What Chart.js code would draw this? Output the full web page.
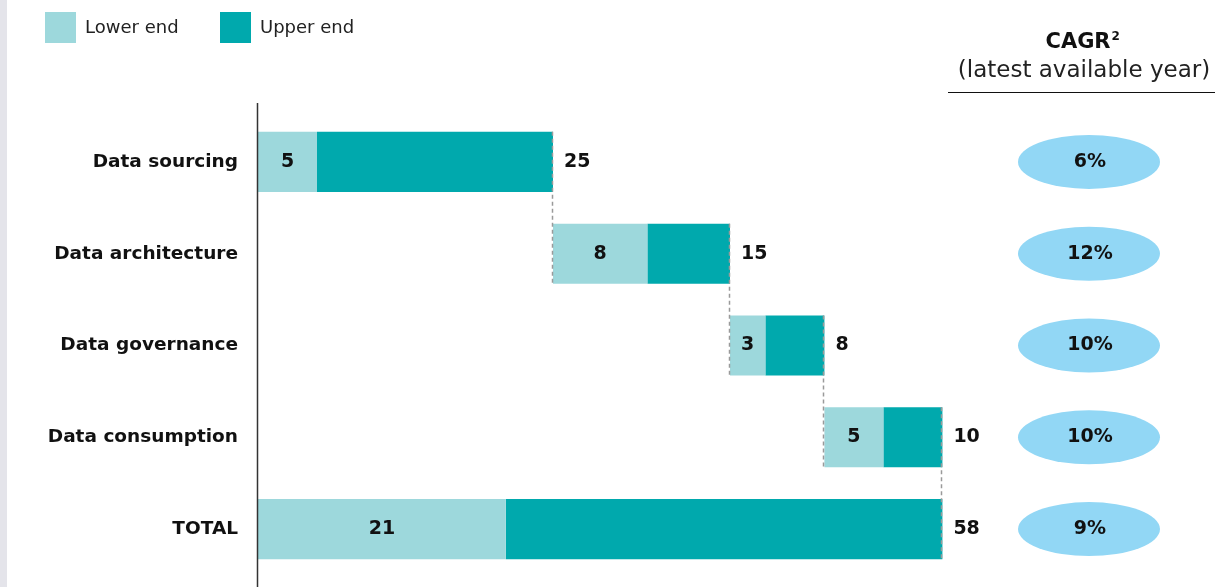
<!DOCTYPE html>
<html>
<head>
<meta charset="utf-8">
<script src="https://cdn.jsdelivr.net/npm/chart.js@4/dist/chart.umd.min.js"></script>
<style>
  html, body { margin: 0; padding: 0; background: #fff; }
  #wrap { width: 1215px; height: 587px; position: relative; }
</style>
</head>
<body>
<div id="wrap"><canvas id="myChart" width="1215" height="587"></canvas></div>
<script>
// data
const categories = ['Data sourcing', 'Data architecture', 'Data governance', 'Data consumption', 'TOTAL'];
const lowerEnd = [5, 8, 3, 5, 21];
const upperEnd = [25, 15, 8, 10, 58];
const cagr = ['6%', '12%', '10%', '10%', '9%'];
const seriesNames = ['Lower end', 'Upper end'];

const lightColor = '#9dd8dc';
const darkColor = '#00a9ad';

// waterfall: each step starts where the previous one ended, total starts at 0
const starts = [];
let running = 0;
for (let i = 0; i < categories.length; i++) {
    if (i === categories.length - 1) {
        starts.push(0);
    } else {
        starts.push(running);
        running += upperEnd[i];
    }
}

const lowerBars = categories.map((c, i) => [starts[i], starts[i] + lowerEnd[i]]);
const upperBars = categories.map((c, i) => [starts[i] + lowerEnd[i], starts[i] + upperEnd[i]]);

const boldFont = '"DejaVu Sans", sans-serif';
const textFont = '"DejaVu Sans", sans-serif';

const extras = {
    id: 'extras',
    beforeDraw(chart) {
        const ctx = chart.ctx;
        ctx.save();
        ctx.fillStyle = '#e4e4ea';
        ctx.fillRect(0, 0, 7, chart.height);
        ctx.restore();
    },
    afterDatasetsDraw(chart) {
        const ctx = chart.ctx;
        const x = chart.scales.x;
        const lowMeta = chart.getDatasetMeta(0);
        const upMeta = chart.getDatasetMeta(1);
        ctx.save();

        // axis line
        ctx.strokeStyle = '#333';
        ctx.lineWidth = 1.5;
        ctx.beginPath();
        ctx.moveTo(chart.chartArea.left - 0.5, 103);
        ctx.lineTo(chart.chartArea.left - 0.5, chart.height);
        ctx.stroke();

        // dashed connectors
        ctx.strokeStyle = '#9a9a9a';
        ctx.lineWidth = 1.5;
        ctx.setLineDash([4, 3]);
        for (let i = 0; i < categories.length - 1; i++) {
            const a = upMeta.data[i];
            const b = upMeta.data[i + 1];
            const px = Math.round(x.getPixelForValue(starts[i] + upperEnd[i])) - 0.5;
            ctx.beginPath();
            ctx.moveTo(px, a.y - a.height / 2);
            ctx.lineTo(px, b.y + b.height / 2);
            ctx.stroke();
        }
        ctx.setLineDash([]);

        // value labels
        ctx.fillStyle = '#111';
        ctx.font = 'bold 19px ' + boldFont;
        ctx.textBaseline = 'middle';
        for (let i = 0; i < categories.length; i++) {
            const bar = lowMeta.data[i];
            const mid = x.getPixelForValue(starts[i] + lowerEnd[i] / 2);
            ctx.textAlign = 'center';
            ctx.fillText(lowerEnd[i], mid, bar.y);
            ctx.textAlign = 'left';
            ctx.fillText(upperEnd[i], x.getPixelForValue(starts[i] + upperEnd[i]) + 11, bar.y);
        }

        // CAGR column
        ctx.textAlign = 'center';
        ctx.font = 'bold 21px ' + boldFont;
        ctx.fillText('CAGR', 1078, 43);
        const w = ctx.measureText('CAGR').width;
        ctx.font = 'bold 12px ' + boldFont;
        ctx.textAlign = 'left';
        ctx.fillText('2', 1078 + w / 2 + 1, 37);
        ctx.textAlign = 'center';
        ctx.font = '23px ' + textFont;
        ctx.fillStyle = '#222';
        ctx.fillText('(latest available year)', 1084, 71);
        ctx.strokeStyle = '#111';
        ctx.lineWidth = 1.2;
        ctx.beginPath();
        ctx.moveTo(948, 92.5);
        ctx.lineTo(1215, 92.5);
        ctx.stroke();

        for (let i = 0; i < categories.length; i++) {
            const bar = lowMeta.data[i];
            ctx.fillStyle = '#92d7f5';
            ctx.beginPath();
            ctx.ellipse(1089, bar.y, 71, 27, 0, 0, Math.PI * 2);
            ctx.fill();
            ctx.fillStyle = '#111';
            ctx.font = 'bold 19px ' + boldFont;
            ctx.fillText(cagr[i], 1090, bar.y);
        }

        // legend
        const legendX = [45, 220];
        ctx.textAlign = 'left';
        ctx.font = '18px ' + textFont;
        [lightColor, darkColor].forEach((col, k) => {
            ctx.fillStyle = col;
            ctx.fillRect(legendX[k], 12, 31, 31);
            ctx.fillStyle = '#222';
            ctx.fillText(seriesNames[k], legendX[k] + 40, 28);
        });
        ctx.restore();
    }
};

const ctx = document.getElementById('myChart').getContext('2d');
const myChart = new Chart(ctx, {
    type: 'bar',
    data: {
        labels: categories,
        datasets: [{
            label: seriesNames[0],
            data: lowerBars,
            backgroundColor: lightColor,
            grouped: false,
            borderSkipped: false,
            barPercentage: 0.655,
            categoryPercentage: 1
        }, {
            label: seriesNames[1],
            data: upperBars,
            backgroundColor: darkColor,
            grouped: false,
            borderSkipped: false,
            barPercentage: 0.655,
            categoryPercentage: 1
        }]
    },
    options: {
        indexAxis: 'y',
        responsive: false,
        animation: false,
        layout: { autoPadding: false, padding: { top: 116, bottom: 12, left: 0, right: 249 } },
        plugins: {
            legend: { display: false },
            tooltip: { enabled: false }
        },
        scales: {
            x: {
                min: 0,
                max: 60,
                display: false
            },
            y: {
                grid: { display: false },
                border: { display: false },
                ticks: {
                    padding: 12,
                    color: '#111',
                    font: { family: boldFont, size: 18.5, weight: 'bold' }
                },
                afterFit(scale) {
                    scale.width = 258;
                    scale.paddingTop = 0;
                    scale.paddingBottom = 0;
                }
            }
        }
    },
    plugins: [extras]
});
</script>
</body>
</html>
